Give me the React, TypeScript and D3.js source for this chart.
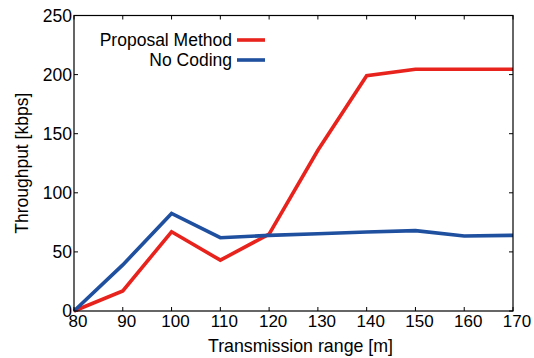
import { useEffect, useRef } from 'react'
import * as d3 from 'd3'

const ranges = [80, 90, 100, 110, 120, 130, 140, 150, 160, 170]
const proposal = [0, 17, 67, 43, 65, 136, 199, 204.5, 204.5, 204.5]
const noCoding = [0, 39, 82.5, 62, 64, 65.3, 66.8, 68, 63.5, 64]
const yTicks = [0, 50, 100, 150, 200, 250]

const series = [
  { name: 'Proposal Method', values: proposal, color: '#e8221c' },
  { name: 'No Coding', values: noCoding, color: '#1f4f9f' },
]

export default function App() {
  const ref = useRef<SVGSVGElement>(null)

  useEffect(() => {
    document.body.style.margin = '0'
    if (!ref.current) return
    const width = 534
    const height = 358
    const m = { left: 74, right: 21, top: 15.5, bottom: 47 }
    const font = 'Liberation Sans, Arial, sans-serif'

    const svg = d3.select(ref.current)
    svg.selectAll('*').remove()

    const x = d3.scaleLinear().domain([80, 170]).range([m.left, width - m.right])
    const y = d3.scaleLinear().domain([0, 250]).range([height - m.bottom, m.top])

    const g = svg.append('g')
    const tl = 4

    // ticks on all four sides, pointing in
    ranges.forEach((v) => {
      g.append('line').attr('x1', x(v)).attr('x2', x(v)).attr('y1', y(0)).attr('y2', y(0) - tl).attr('stroke', '#000')
      g.append('line').attr('x1', x(v)).attr('x2', x(v)).attr('y1', y(250)).attr('y2', y(250) + tl).attr('stroke', '#000')
      g.append('text')
        .attr('x', x(v) + 4)
        .attr('y', y(0) + 15.5)
        .attr('text-anchor', 'middle')
        .style('font-family', font)
        .style('font-size', '17px')
        .text(v)
    })
    yTicks.forEach((v) => {
      g.append('line').attr('x1', x(80)).attr('x2', x(80) + tl).attr('y1', y(v)).attr('y2', y(v)).attr('stroke', '#000')
      g.append('line').attr('x1', x(170)).attr('x2', x(170) - tl).attr('y1', y(v)).attr('y2', y(v)).attr('stroke', '#000')
      g.append('text')
        .attr('x', x(80) - 2)
        .attr('y', y(v))
        .attr('dy', '0.36em')
        .attr('text-anchor', 'end')
        .style('font-family', font)
        .style('font-size', '17.5px')
        .text(v)
    })

    const line = d3
      .line<number>()
      .x((_, i) => x(ranges[i]))
      .y((d) => y(d))

    series.forEach((s) => {
      g.append('path')
        .attr('d', line(s.values))
        .attr('fill', 'none')
        .attr('stroke', s.color)
        .attr('stroke-width', 3.6)
        .attr('stroke-linejoin', 'miter')
    })

    g.append('rect')
      .attr('x', x(80))
      .attr('y', y(250))
      .attr('width', x(170) - x(80))
      .attr('height', y(0) - y(250))
      .attr('fill', 'none')
      .attr('stroke', '#000')
      .attr('stroke-width', 1.2)

    // legend
    series.forEach((s, i) => {
      const ly = 40 + i * 20
      g.append('text')
        .attr('x', 232)
        .attr('y', ly)
        .attr('dy', '0.36em')
        .attr('text-anchor', 'end')
        .style('font-family', font)
        .style('font-size', '17.5px')
        .text(s.name)
      g.append('line')
        .attr('x1', 237)
        .attr('x2', 265)
        .attr('y1', ly)
        .attr('y2', ly)
        .attr('stroke', s.color)
        .attr('stroke-width', 3.6)
    })

    g.append('text')
      .attr('x', (x(80) + x(170)) / 2 + 7)
      .attr('y', 352)
      .attr('text-anchor', 'middle')
      .style('font-family', font)
      .style('font-size', '17.8px')
      .text('Transmission range [m]')

    g.append('text')
      .attr('transform', `translate(28,${(y(0) + y(250)) / 2}) rotate(-90)`)
      .attr('text-anchor', 'middle')
      .style('font-family', font)
      .style('font-size', '17.5px')
      .text('Throughput [kbps]')
  }, [])

  return (
    <svg
      ref={ref}
      width={534}
      height={358}
      style={{ display: 'block', background: '#fff', position: 'absolute', left: 0, top: 0 }}
    />
  )
}
